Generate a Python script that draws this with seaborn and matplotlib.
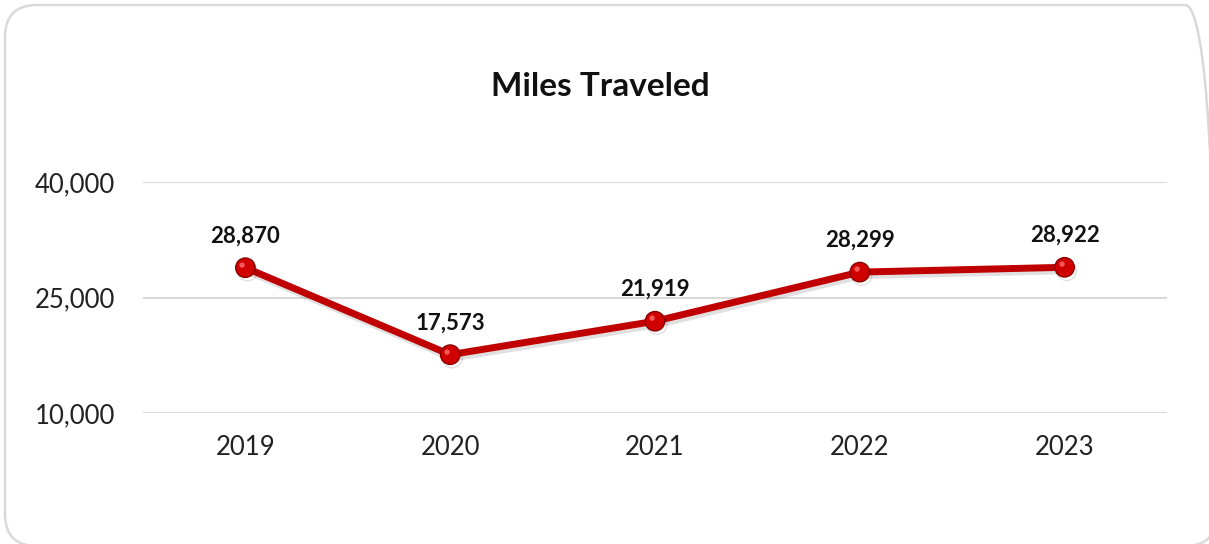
import matplotlib
matplotlib.use("Agg")
import matplotlib.pyplot as plt
import matplotlib.patheffects as pe
from matplotlib.patches import FancyBboxPatch
from matplotlib.path import Path
from matplotlib.ticker import FuncFormatter
import numpy as np
import pandas as pd
import seaborn as sns

# ── Data ───────────────────────────────────────────────────────────────────────
years = ["2019", "2020", "2021", "2022", "2023"]
miles = [28870, 17573, 21919, 28299, 28922]
y_ticks = [10000, 25000, 40000]

df = pd.DataFrame({"year": years, "miles": miles})

sns.set_theme(style="white")
plt.rcParams["font.family"] = ["Lato", "DejaVu Sans"]

RED = "#c00000"

fig = plt.figure(figsize=(12.09, 5.44), dpi=100)
ax = fig.add_axes([143 / 1209, 1 - 413 / 544, 1024 / 1209, 231 / 544])

# shadowed line with sphere-ish markers
sns.lineplot(data=df, x="year", y="miles", ax=ax, color=RED, linewidth=5,
             marker="o", markersize=14, markerfacecolor="#d10000",
             markeredgecolor="#8a0000", markeredgewidth=1.0, clip_on=False,
             path_effects=[pe.SimpleLineShadow(offset=(1.5, -2.5), shadow_color="#000000", alpha=0.12),
                           pe.Normal()])

# small highlight on each marker
circ = Path.circle((-0.28, 0.28), 0.22)
verts = np.vstack([circ.vertices, [[0.8, -0.8]]])
codes = np.concatenate([circ.codes, [Path.MOVETO]])
ax.plot(df["year"], df["miles"], linestyle="none", marker=Path(verts, codes),
        markersize=14, markerfacecolor="#ff8080", markeredgewidth=0, alpha=0.7,
        clip_on=False)

for yr, v in zip(years, miles):
    ax.annotate(f"{v:,}", (yr, v), xytext=(0, 23), textcoords="offset points",
                ha="center", va="center", fontsize=16, fontweight="bold", color="#111111")

ax.set_xlim(-0.5, len(years) - 0.5)
ax.set_ylim(y_ticks[0], y_ticks[-1])
ax.set_yticks(y_ticks)
ax.yaxis.set_major_formatter(FuncFormatter(lambda v, _: f"{v:,.0f}"))
ax.grid(axis="y", color="#d9d9d9", linewidth=1.5)
ax.grid(axis="x", visible=False)
for s in ax.spines.values():
    s.set_visible(False)
ax.tick_params(axis="y", length=0, pad=20, labelsize=18.5, labelcolor="#222222")
ax.tick_params(axis="x", length=0, pad=16, labelsize=18.5, labelcolor="#222222")
ax.set_xlabel("")
ax.set_ylabel("")

fig.text(600 / 1209, 1 - 86 / 544, "Miles Traveled", ha="center", va="center",
         fontsize=24, fontweight="bold", color="#111111")

# rounded chart border (runs slightly past the right/bottom edge like the original)
border = FancyBboxPatch((0.05, -0.02), 12.12, 5.41, boxstyle="round,pad=0,rounding_size=0.32",
                        transform=fig.dpi_scale_trans, facecolor="none",
                        edgecolor="#d9d9d9", linewidth=1.8)
fig.patches.append(border)

fig.savefig("out.png", dpi=100)
